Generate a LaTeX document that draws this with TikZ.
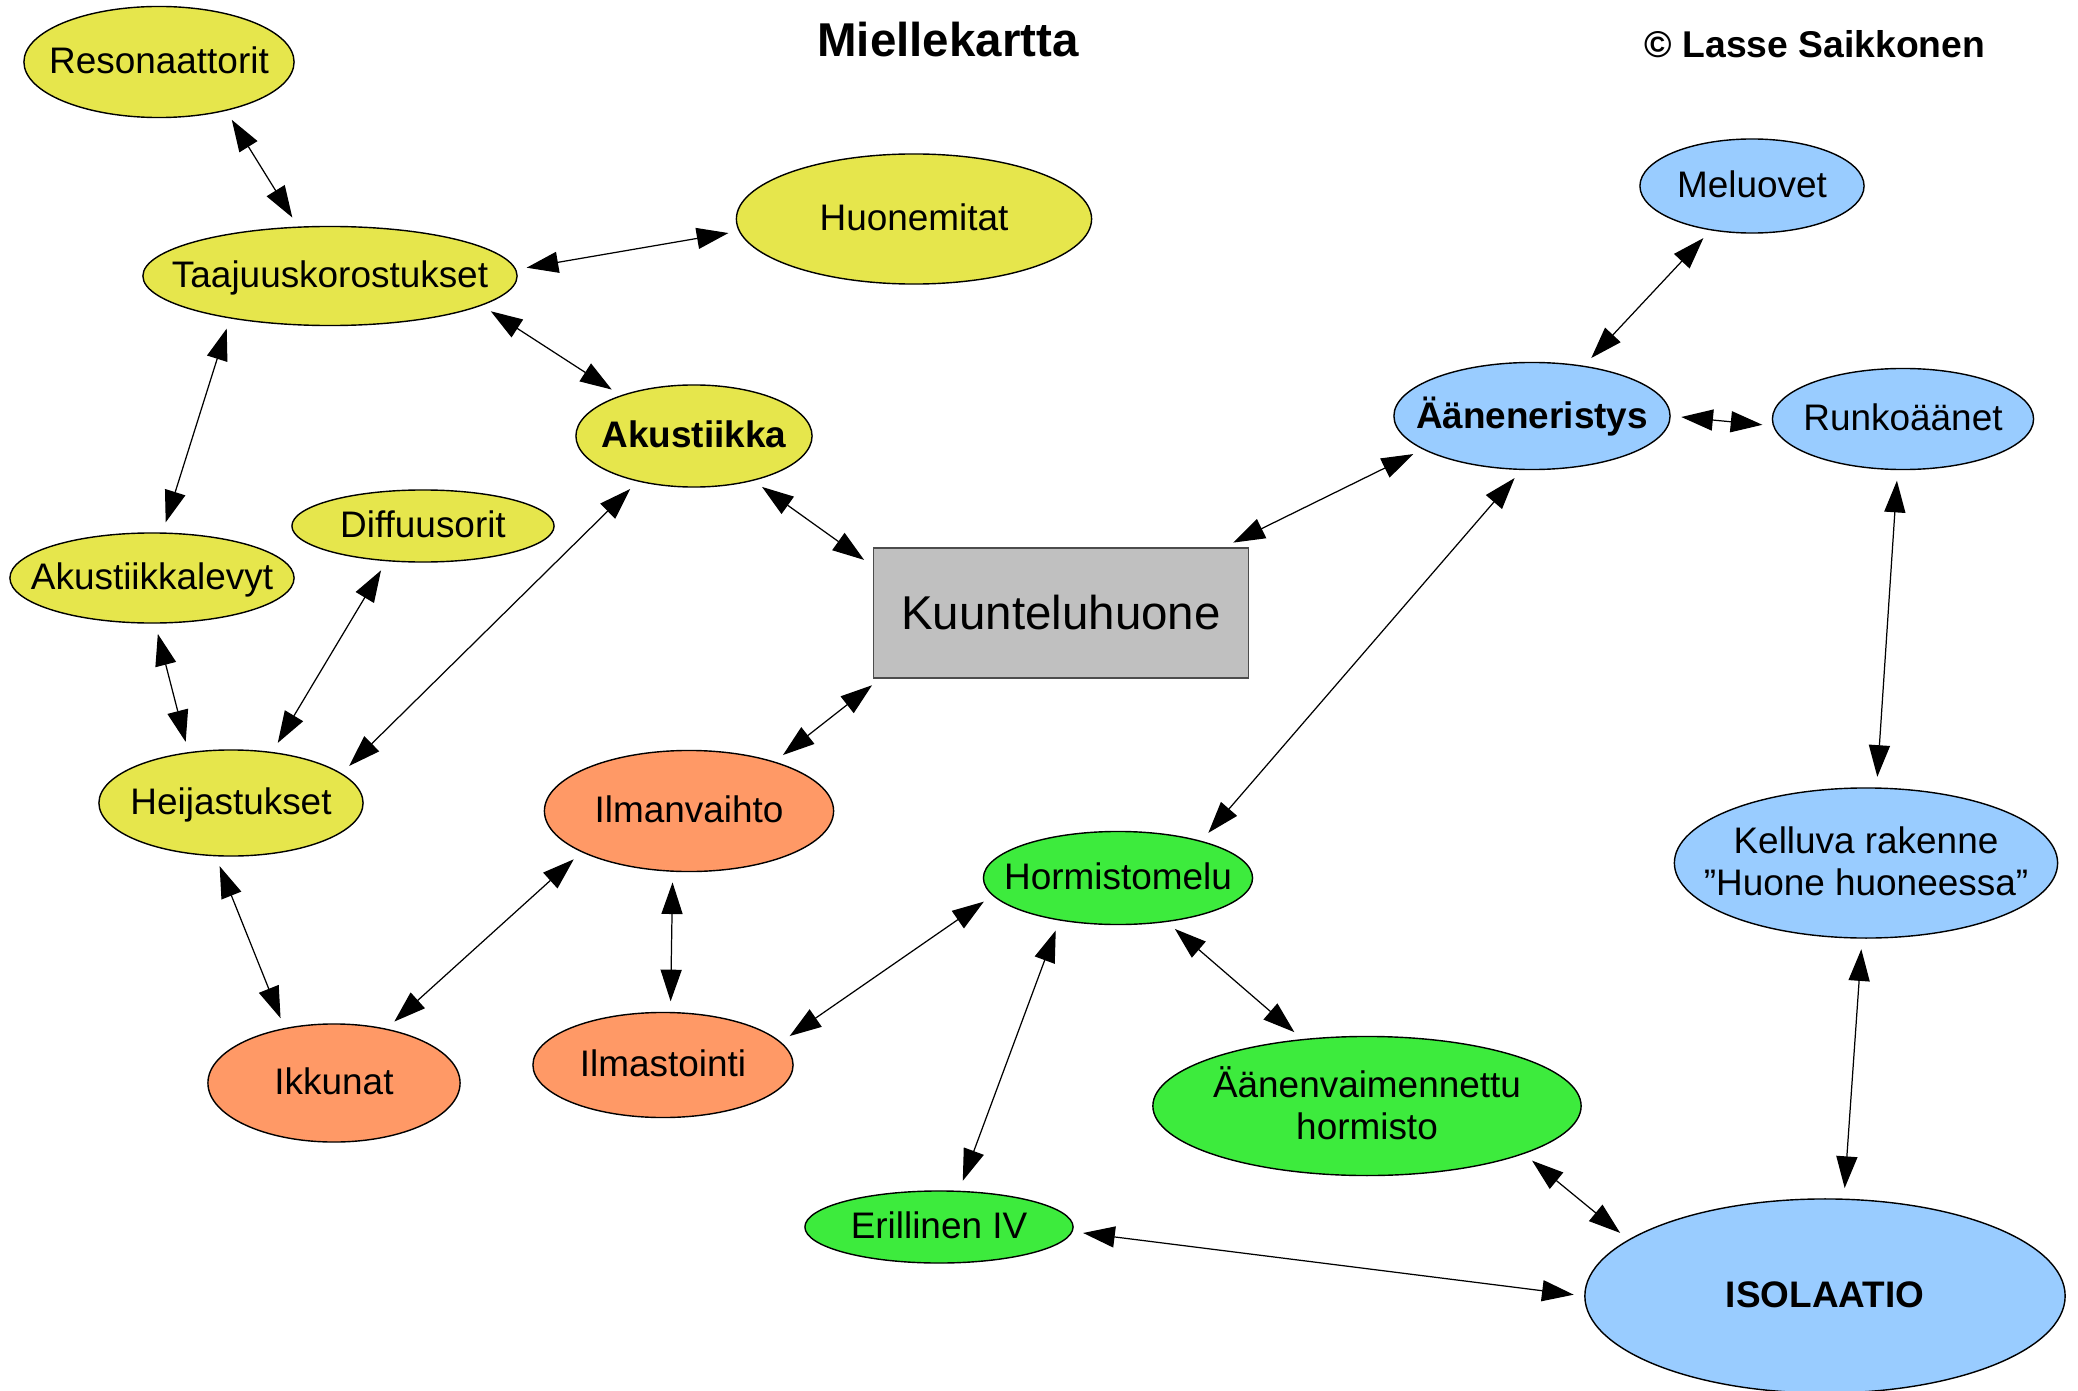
\documentclass[tikz,border=0pt]{standalone}
\usepackage{fontspec}
\setmainfont{Liberation Sans}
\usepackage{tikz}
\usetikzlibrary{shapes.geometric}
\usetikzlibrary{arrows.meta}

\definecolor{yel}{RGB}{230,230,76}
\definecolor{ora}{RGB}{255,153,102}
\definecolor{gre}{RGB}{61,235,61}
\definecolor{blu}{RGB}{153,204,255}
\definecolor{gry}{RGB}{192,192,192}

% text without size, so the ellipse keeps its given size
\newcommand{\nlab}[1]{\makebox[0pt]{\raisebox{-3.7pt}[0pt][0pt]{\begin{tabular}{@{}c@{}}#1\end{tabular}}}}

\tikzset{
  bub/.style={shape=ellipse, draw=black, line width=0.4pt, inner sep=0pt,
    font=\fontsize{10.5}{11.8}\selectfont},
  ybub/.style={bub, fill=yel},
  obub/.style={bub, fill=ora},
  gbub/.style={bub, fill=gre},
  bbub/.style={bub, fill=blu},
  dbl/.style={{Triangle[length=9pt,width=6pt]}-{Triangle[length=9pt,width=6pt]},
    line width=0.35pt, shorten <=3pt, shorten >=3pt}
}

\begin{document}
\begin{tikzpicture}[x=0.01cm, y=-0.01cm]
      \useasboundingbox (0,0) rectangle (2078,1391);
      \node (title) at (948,40) {\fontsize{13.5}{16}\selectfont\bfseries Miellekartta};
      \node (copy) at (1815,44) {\fontsize{10.6}{13}\selectfont\bfseries \textcopyright{} Lasse Saikkonen};
      %% akustiikka
      \node (res) [ybub, minimum width=2.70cm, minimum height=1.11cm] at (159,62) {\nlab{Resonaattorit}};
      \node (taaj) [ybub, minimum width=3.74cm, minimum height=0.99cm] at (330,276) {\nlab{Taajuuskorostukset}};
      \node (huon) [ybub, minimum width=3.55cm, minimum height=1.30cm] at (914,219) {\nlab{Huonemitat}};
      \node (akus) [ybub, minimum width=2.36cm, minimum height=1.02cm] at (694,436) {\nlab{\textbf{Akustiikka}}};
      \node (diff) [ybub, minimum width=2.62cm, minimum height=0.72cm] at (423,526) {\nlab{Diffuusorit}};
      \node (alev) [ybub, minimum width=2.84cm, minimum height=0.90cm] at (152,578) {\nlab{Akustiikkalevyt}};
      \node (heij) [ybub, minimum width=2.64cm, minimum height=1.06cm] at (231,803) {\nlab{Heijastukset}};
      %% keskus
      \node (kuun) [shape=rectangle, draw=black!70, fill=gry, minimum width=3.75cm, minimum height=1.30cm,
        font=\fontsize{13.5}{16}\selectfont] at (1061,613) {Kuunteluhuone};
      %% ilma
      \node (ilmv) [obub, minimum width=2.89cm, minimum height=1.21cm] at (689,811) {\nlab{Ilmanvaihto}};
      \node (ikk) [obub, minimum width=2.52cm, minimum height=1.18cm] at (334,1083) {\nlab{Ikkunat}};
      \node (ilms) [obub, minimum width=2.60cm, minimum height=1.05cm] at (663,1065) {\nlab{Ilmastointi}};
      %% hormit
      \node (horm) [gbub, minimum width=2.69cm, minimum height=0.93cm] at (1118,878) {\nlab{Hormistomelu}};
      \node (aanv) [gbub, minimum width=4.28cm, minimum height=1.39cm] at (1367,1106) {\nlab{Äänenvaimennettu\\hormisto}};
      \node (eril) [gbub, minimum width=2.68cm, minimum height=0.72cm] at (939,1227) {\nlab{Erillinen IV}};
      %% eristys
      \node (aane) [bbub, minimum width=2.76cm, minimum height=1.07cm] at (1532,416) {\nlab{\textbf{Ääneneristys}}};
      \node (melu) [bbub, minimum width=2.24cm, minimum height=0.94cm] at (1752,186) {\nlab{Meluovet}};
      \node (runk) [bbub, minimum width=2.61cm, minimum height=1.01cm] at (1903,419) {\nlab{Runkoäänet}};
      \node (kell) [bbub, minimum width=3.83cm, minimum height=1.50cm] at (1866,863) {\nlab{Kelluva rakenne\\”Huone huoneessa”}};
      \node (iso) [bbub, minimum width=4.80cm, minimum height=1.94cm] at (1825,1296) {\nlab{\textbf{ISOLAATIO}}};
      %% yhteydet
      \draw [dbl] (res.-36) -- (taaj.123);
      \draw [dbl] (taaj.2) -- (huon.184);
      \draw [dbl] (taaj.-11) -- (akus.151);
      \draw [dbl] (taaj.-157) -- (alev.77);
      \draw [dbl] (akus.-37) -- (kuun.166);
      \draw [dbl] (akus.-141) -- (heij.15);
      \draw [dbl] (alev.-86) -- (heij.130);
      \draw [dbl] (diff.-136) -- (heij.51);
      \draw [dbl] (heij.-106) -- (ikk.132);
      \draw [dbl] (ikk.46) -- (ilmv.-159);
      \draw [dbl] (ilmv.30) -- (kuun.-160);
      \draw [dbl] (ilmv.-105) -- (ilms.82);
      \draw [dbl] (ilms.11) -- (horm.188);
      \draw [dbl] (kuun.22) -- (aane.-163);
      \draw [dbl] (aane.-101) -- (horm.24);
      \draw [dbl] (aane.44) -- (melu.-133);
      \draw [dbl] (aane.0) -- (runk.183);
      \draw [dbl] (runk.-96) -- (kell.82);
      \draw [dbl] (kell.-93) -- (iso.79);
      \draw [dbl] (horm.-144) -- (eril.61);
      \draw [dbl] (horm.-42) -- (aanv.134);
      \draw [dbl] (aanv.-17) -- (iso.164);
      \draw [dbl] (eril.-2) -- (iso.180);
    \end{tikzpicture}
\end{document}
